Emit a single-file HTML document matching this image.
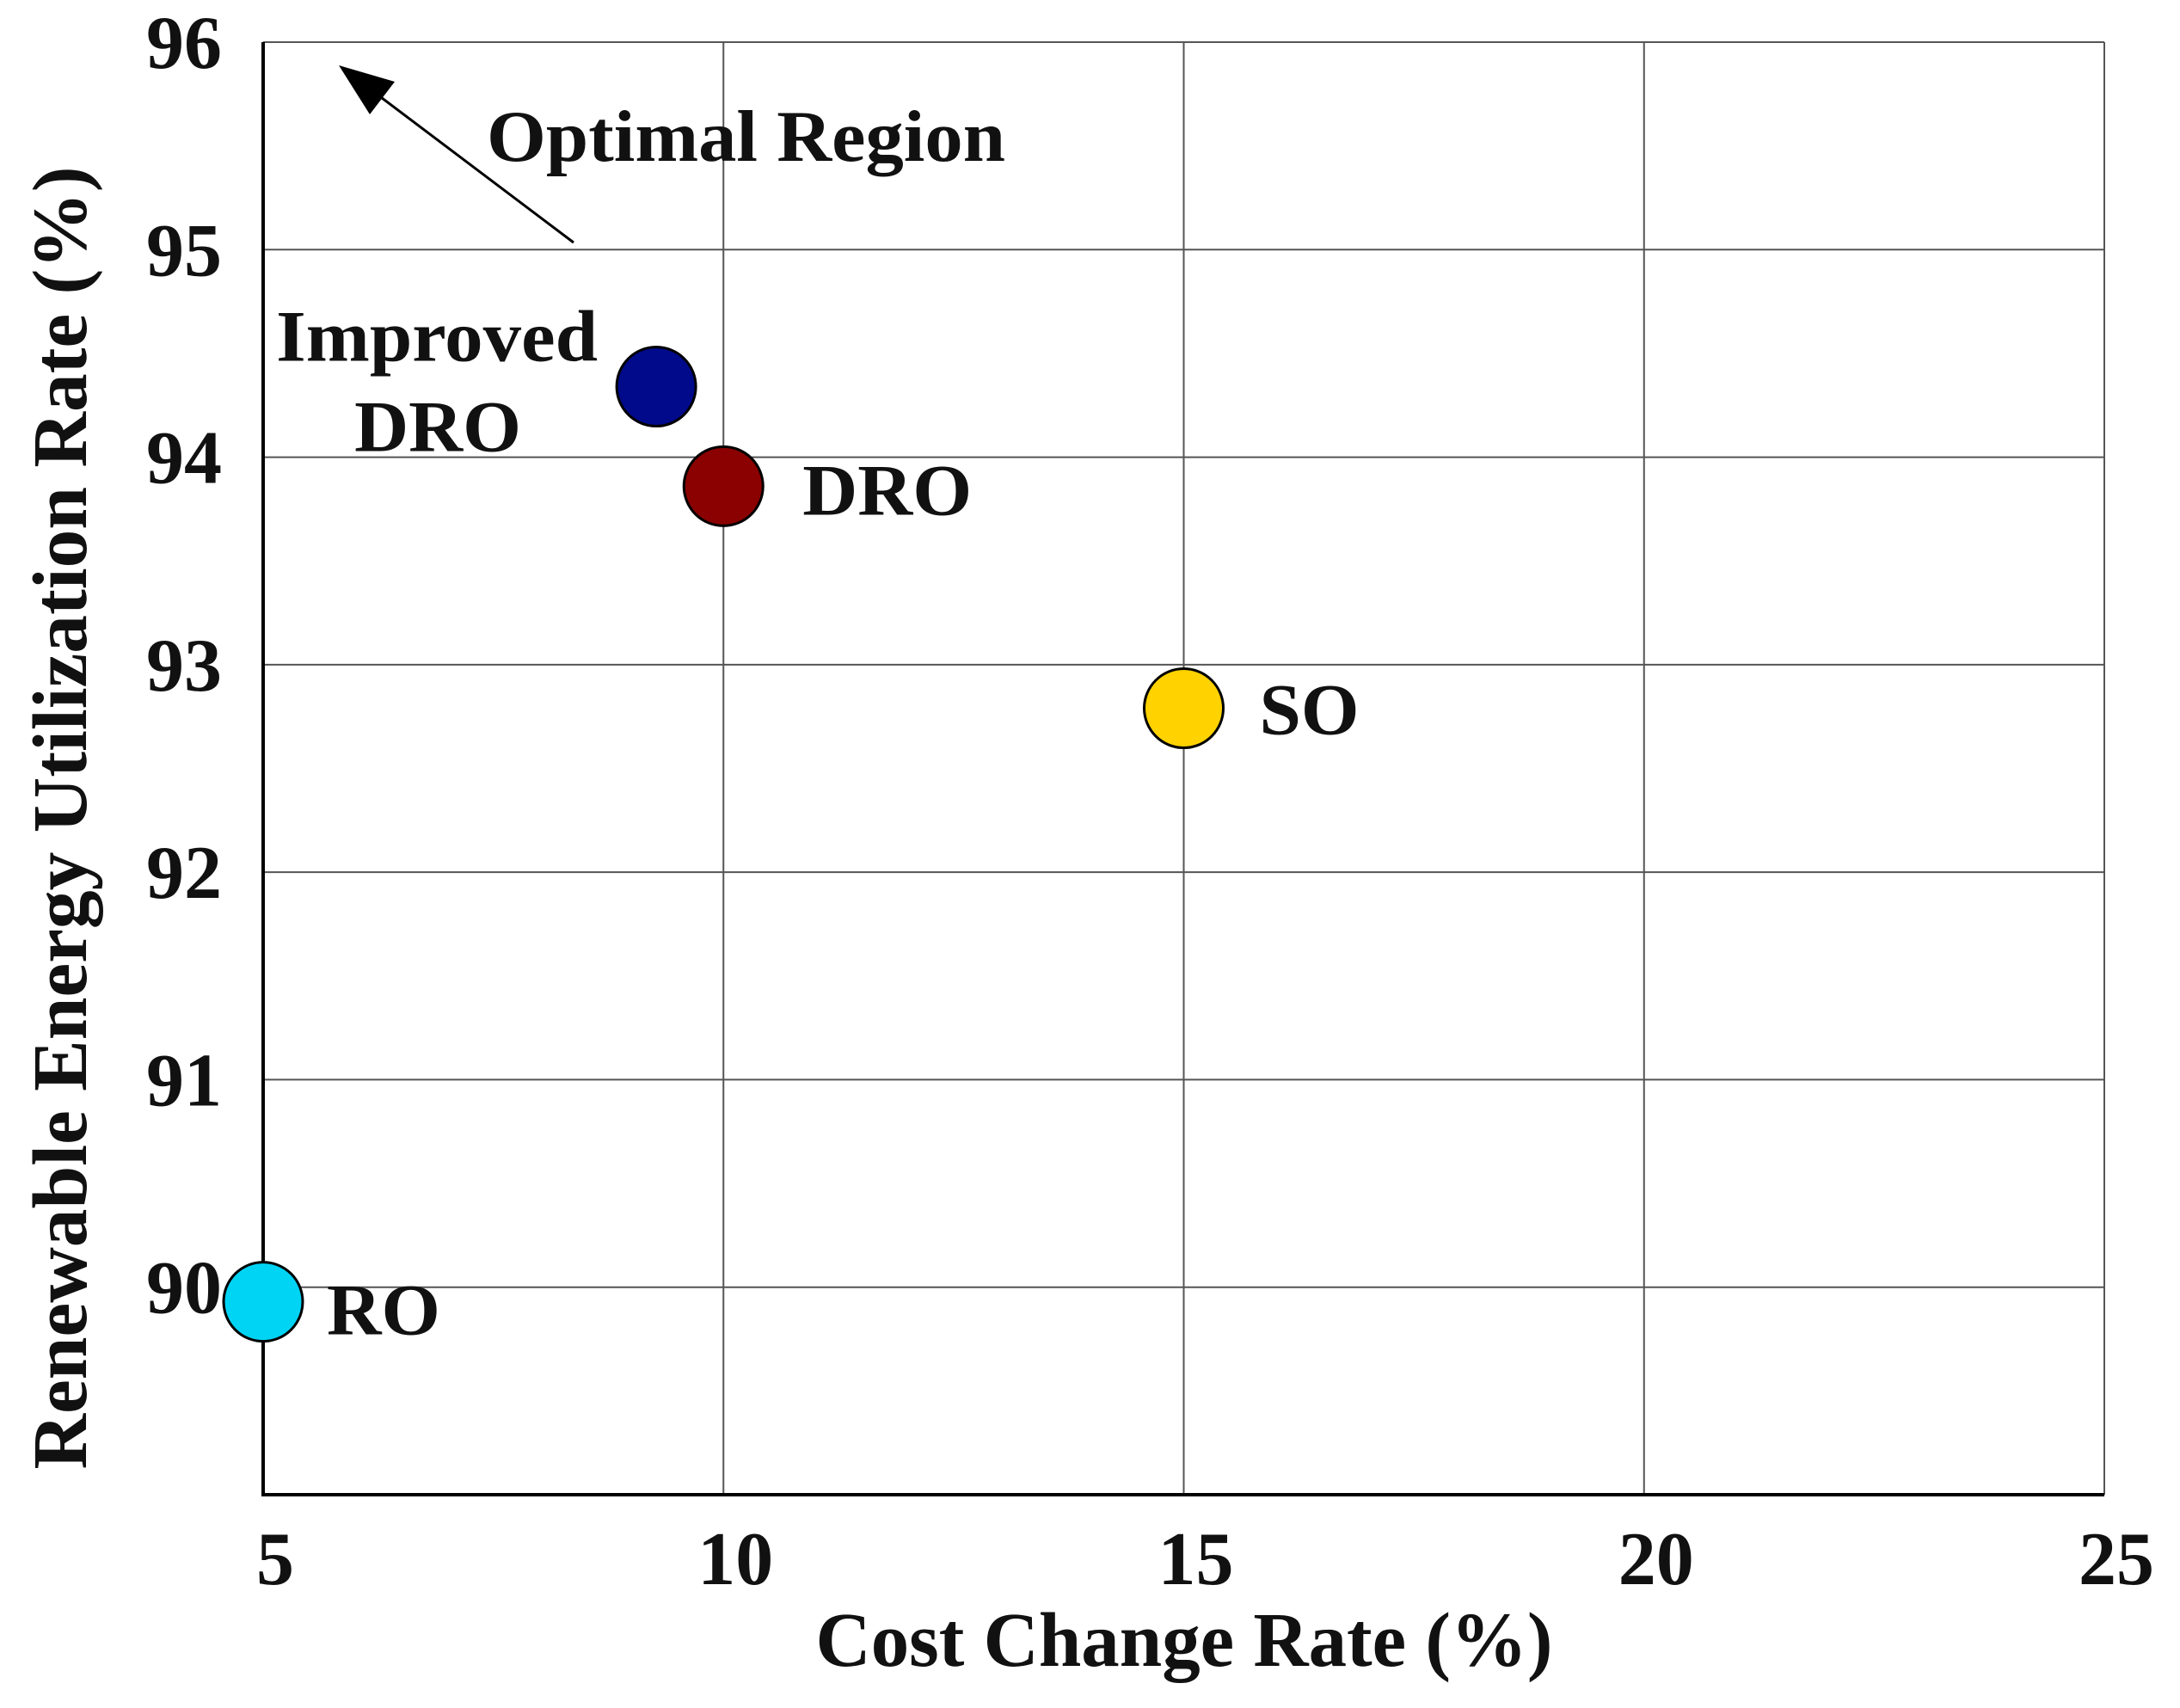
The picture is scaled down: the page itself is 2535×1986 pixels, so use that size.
<!DOCTYPE html>
<html><head><meta charset="utf-8"><style>
html,body{margin:0;padding:0;background:#fff}
svg{display:block}
text{font-family:"Liberation Serif",serif;font-weight:bold;fill:#111}
</style></head><body>
<svg id="chart" width="2535" height="1986" viewBox="0 0 2535 1986" xmlns="http://www.w3.org/2000/svg">
<g id="grid"></g>
<g id="axes"></g>
<g id="marks"></g>
<g>
<line x1="667" y1="282" x2="415" y2="92" stroke="#000" stroke-width="3"/>
<polygon points="394,76 430,133 459,95" fill="#000"/>
<text x="566" y="187" font-size="85" textLength="603" lengthAdjust="spacingAndGlyphs">Optimal Region</text>
</g>
<text x="1377" y="1937" font-size="90" text-anchor="middle" textLength="857" lengthAdjust="spacingAndGlyphs">Cost Change Rate (%)</text>
<text transform="translate(100,951) rotate(-90)" font-size="90" text-anchor="middle" textLength="1515" lengthAdjust="spacingAndGlyphs">Renewable Energy Utilization Rate (%)</text>
</svg>
<script>
const xTicks=[5,10,15,20,25];
const yTicks=[90,91,92,93,94,95,96];
const names=["Improved DRO","DRO","SO","RO"];
const costValues=[9.27,10,15,5];
const rateValues=[94.34,93.86,92.79,89.93];
const colors=["#000a8a","#8b0000","#ffd200","#00d4f5"];
const NS="http://www.w3.org/2000/svg";
const L=306,R=2447,T=49,B=1738;
function sx(v){return L+(v-5)/(25-5)*(R-L);}
function sy(v){return B-(v-89)/(96-89)*(B-T);}
function mk(tag,attrs,parent){const e=document.createElementNS(NS,tag);for(const k in attrs)e.setAttribute(k,attrs[k]);parent.appendChild(e);return e;}
const grid=document.getElementById('grid'),axes=document.getElementById('axes'),marks=document.getElementById('marks');
xTicks.forEach(t=>{
  const l=mk('line',{x1:sx(t),x2:sx(t),y1:T,y2:B,stroke:'#555','stroke-width':2},grid);
  
  
  const tx=mk('text',{x:sx(t)+14,y:1842,'font-size':88,'text-anchor':'middle'},axes);
  tx.textContent=t;
  
  
});
yTicks.forEach(t=>{
  const l=mk('line',{x1:L,x2:R,y1:sy(t),y2:sy(t),stroke:'#555','stroke-width':2},grid);
  
  
  const tx=mk('text',{x:258,y:sy(t)+30,'font-size':88,'text-anchor':'end'},axes);
  tx.textContent=t;
  
  
});
const ax1=mk('line',{x1:L,x2:L,y1:T,y2:B+2,stroke:'#000','stroke-width':4},axes);


const ax2=mk('line',{x1:L-2,x2:R,y1:B,y2:B,stroke:'#000','stroke-width':4},axes);


const labelPos=[null,[92,33,197],[88,30,116],[74,38,132]];
names.forEach((n,i)=>{
  const cx=sx(costValues[i]),cy=sy(rateValues[i]);
  const c=mk('circle',{cx:cx,cy:cy,r:46,fill:colors[i],stroke:'#000','stroke-width':3},marks);
  
  
  if(i===0){
    const t1=mk('text',{x:cx-68,y:cy-30,'font-size':85,'text-anchor':'end',textLength:374,lengthAdjust:'spacingAndGlyphs'},marks);
    t1.textContent='Improved';
    
    
    const t2=mk('text',{x:cx-157,y:cy+75,'font-size':85,'text-anchor':'end',textLength:194,lengthAdjust:'spacingAndGlyphs'},marks);
    t2.textContent='DRO';
    
    
  } else {
    const t=mk('text',{x:cx+labelPos[i][0],y:cy+labelPos[i][1],'font-size':85,textLength:labelPos[i][2],lengthAdjust:'spacingAndGlyphs'},marks);
    t.textContent=n;
    
    
  }
});
</script>
</body></html>
